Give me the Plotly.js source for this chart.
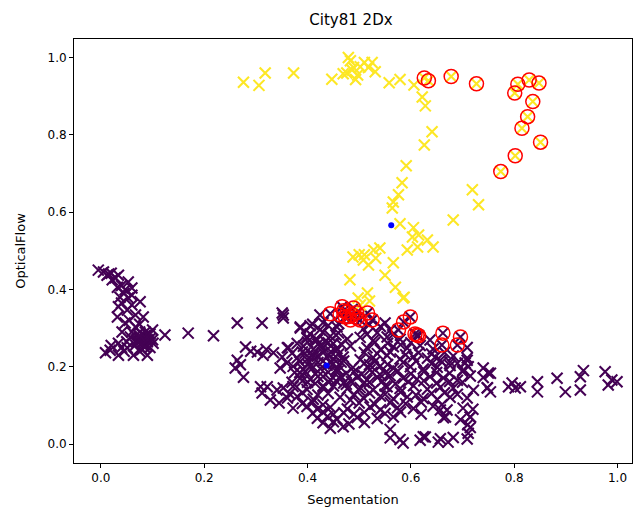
<!DOCTYPE html>
<html>
<head>
<meta charset="utf-8">
<script src="https://cdn.plot.ly/plotly-3.0.1.min.js"></script>
<style>html,body{margin:0;padding:0;background:#fff;}#chart{width:635px;height:515px;}</style>
</head>
<body>
<div id="chart"></div>
<script>
// Cluster 0 (purple) points
const purpleX = [
 -0.005,0.005,0.012,0.020,0.034,0.022,0.053,0.032,0.047,0.060,0.037,0.053,0.076,0.034,0.051,0.067,0.032,0.082,0.047,0.067,
 0.041,0.086,0.100,0.057,0.076,0.096,0.090,0.085,0.034,0.018,0.051,0.009,0.067,0.086,0.090,0.101,0.034,0.063,0.045,0.080,
 0.015,0.028,0.040,0.045,0.060,0.040,0.060,0.055,0.075,0.060,0.075,0.090,0.070,0.095,0.050,0.020,0.040,0.075,
 0.070,0.080,0.090,0.085,0.100,0.075,0.095,
 0.124,0.169,0.218,0.264,0.312,0.351,0.353,
 0.280,0.303,0.314,0.334,0.351,0.363,0.264,0.260,0.276,0.309,0.322,0.312,0.341,0.328,0.345,0.386,0.399,0.424,0.290,0.320,0.270,
 0.353,
 0.386,0.405,0.424,0.457,0.508,0.541,0.560,
 0.399,0.419,0.444,0.477,0.502,0.527,0.554,0.579,
 0.361,0.392,0.411,0.430,0.457,0.483,0.515,0.541,0.566,0.593,0.618,0.643,0.709,
 0.380,0.399,0.419,0.450,0.469,0.502,0.527,0.554,0.579,0.605,0.632,0.657,0.682,0.709,
 0.347,0.372,0.392,0.411,0.438,0.457,0.488,0.521,0.541,0.566,0.599,0.624,0.651,0.676,0.701,0.740,
 0.386,0.405,0.430,0.463,0.496,0.515,0.535,0.560,0.585,0.612,0.637,0.663,0.690,0.715,0.740,
 0.353,0.372,0.399,0.430,0.450,0.477,0.502,0.527,0.554,0.579,0.605,0.632,0.657,0.682,0.721,0.748,
 0.361,0.380,0.411,0.463,0.483,0.508,0.541,0.566,0.593,0.624,0.651,0.676,0.709,
 0.372,0.399,0.419,0.444,0.477,0.521,0.541,0.574,0.605,0.643,0.670,0.701,
 0.419,0.438,0.457,0.496,0.535,0.566,0.663,0.696,0.715,
 0.444,0.469,0.560,0.715,
 0.560,0.579,0.624,0.657,0.682,0.709,
 0.410,0.430,0.440,0.460,0.520,0.550,
 0.405,0.430,0.455,0.460,0.515,0.535,0.565,
 0.380,0.400,0.420,0.440,0.465,0.530,0.555,0.580,0.600,
 0.370,0.390,0.410,0.430,0.445,0.460,0.510,0.535,0.560,0.590,0.615,0.640,0.665,
 0.360,0.385,0.400,0.420,0.430,0.450,0.465,0.510,0.530,0.555,0.585,0.610,0.640,0.660,0.690,
 0.375,0.395,0.415,0.440,0.455,0.475,0.490,0.505,0.525,0.550,0.575,0.600,0.625,0.650,0.675,0.700,
 0.370,0.390,0.415,0.440,0.455,0.470,0.485,0.510,0.545,0.570,0.595,0.625,0.650,0.675,0.700,
 0.365,0.390,0.420,0.440,0.490,0.520,0.550,0.580,0.610,0.640,0.665,0.690,
 0.390,0.410,0.430,0.500,0.530,0.560,0.590,0.620,0.660,
 0.410,0.430,0.450,0.470,0.490,0.510,0.550,0.580,0.620,
 0.430,0.450,0.480,0.510,
 0.415,0.425,0.435,0.450,0.410,0.440,0.455,0.425,0.445,0.460,0.420,0.445,0.465,0.430,0.400,0.405,0.470,0.475,0.500,0.520,
 0.540,0.520,0.550,0.395,0.385,
 0.637,0.647,0.676,0.705,0.750,0.748,0.709,0.711,0.657,0.667,0.715,0.711,0.628,0.653,0.672,0.585,0.618,0.710,0.720,
 0.754,0.754,0.789,0.796,0.802,0.812,0.845,0.845,0.883,0.899,0.928,0.934,0.928,0.976,0.989,0.982,0.999,
 0.444,0.463,0.467,0.473,0.477,0.483,0.487,0.489,0.496,0.502,0.516,0.525,0.470,0.480,0.495,
 0.599,0.586,0.576,0.612,0.615,0.608,0.662,0.660,0.696,0.690
];
const purpleY = [
 0.450,0.445,0.437,0.442,0.437,0.425,0.419,0.406,0.399,0.404,0.380,0.378,0.368,0.355,0.347,0.334,0.329,0.329,0.313,0.303,
 0.290,0.290,0.295,0.277,0.274,0.274,0.265,0.280,0.261,0.243,0.249,0.236,0.256,0.256,0.230,0.261,0.230,0.230,0.240,0.245,
 0.440,0.430,0.410,0.390,0.385,0.365,0.360,0.320,0.310,0.290,0.290,0.285,0.265,0.250,0.265,0.255,0.250,0.240,
 0.270,0.260,0.270,0.250,0.270,0.280,0.285,
 0.282,0.287,0.280,0.313,0.313,0.339,0.326,
 0.251,0.238,0.230,0.236,0.225,0.249,0.217,0.197,0.173,0.148,0.148,0.132,0.140,0.114,0.106,0.303,0.277,0.334,0.240,0.245,0.205,
 0.334,
 0.300,0.306,0.296,0.303,0.298,0.304,0.295,
 0.274,0.270,0.279,0.272,0.276,0.268,0.277,0.271,
 0.249,0.253,0.245,0.251,0.247,0.254,0.249,0.244,0.252,0.248,0.255,0.246,0.250,
 0.223,0.219,0.227,0.221,0.225,0.218,0.224,0.229,0.220,0.226,0.222,0.217,0.228,0.223,
 0.197,0.201,0.193,0.199,0.204,0.195,0.198,0.192,0.202,0.196,0.200,0.194,0.199,0.203,0.191,0.197,
 0.171,0.167,0.175,0.169,0.173,0.166,0.172,0.177,0.170,0.168,0.174,0.171,0.165,0.176,0.172,
 0.145,0.149,0.141,0.147,0.150,0.143,0.146,0.140,0.148,0.144,0.151,0.142,0.147,0.145,0.139,0.146,
 0.119,0.123,0.116,0.121,0.114,0.120,0.124,0.117,0.122,0.118,0.115,0.121,0.119,
 0.093,0.097,0.090,0.095,0.091,0.096,0.089,0.094,0.092,0.098,0.088,0.093,
 0.067,0.071,0.064,0.069,0.066,0.070,0.068,0.063,0.070,
 0.041,0.045,0.038,0.043,
 0.016,0.012,0.019,0.014,0.017,0.013,
 0.310,0.314,0.307,0.312,0.309,0.313,
 0.285,0.289,0.282,0.287,0.284,0.288,0.283,
 0.260,0.264,0.258,0.262,0.259,0.263,0.261,0.257,0.262,
 0.235,0.238,0.232,0.236,0.239,0.233,0.237,0.234,0.238,0.231,0.236,0.233,0.237,
 0.210,0.213,0.207,0.211,0.214,0.208,0.212,0.209,0.213,0.206,0.211,0.214,0.208,0.212,0.209,
 0.185,0.188,0.182,0.186,0.189,0.183,0.187,0.181,0.186,0.184,0.189,0.182,0.187,0.185,0.183,0.188,
 0.160,0.163,0.157,0.161,0.164,0.158,0.162,0.159,0.163,0.156,0.161,0.164,0.158,0.162,0.160,
 0.130,0.133,0.127,0.131,0.128,0.132,0.129,0.134,0.127,0.131,0.133,0.129,
 0.105,0.108,0.102,0.106,0.103,0.107,0.104,0.108,0.102,
 0.080,0.083,0.077,0.081,0.078,0.082,0.079,0.083,0.078,
 0.055,0.058,0.052,0.056,
 0.270,0.255,0.265,0.260,0.225,0.230,0.240,0.195,0.210,0.190,0.175,0.165,0.175,0.150,0.160,0.200,0.215,0.155,0.140,0.160,
 0.180,0.205,0.150,0.235,0.185,
 0.269,0.225,0.212,0.210,0.184,0.145,0.217,0.200,0.088,0.070,0.070,0.028,0.018,0.005,0.005,0.003,0.010,0.050,0.090,
 0.183,0.135,0.148,0.158,0.145,0.148,0.161,0.135,0.170,0.135,0.174,0.190,0.140,0.187,0.166,0.153,0.161,
 0.337,0.334,0.355,0.329,0.342,0.321,0.334,0.352,0.326,0.321,0.339,0.321,0.345,0.330,0.340,
 0.329,0.316,0.295,0.282,0.280,0.285,0.287,0.256,0.277,0.256
];

// Cluster 1 (yellow) points
const yellowX = [
 0.276,0.306,0.318,0.373,0.447,0.476,0.479,0.483,0.489,0.497,0.502,0.510,0.518,0.525,0.531,0.493,0.469,0.486,
 0.558,0.579,0.606,0.622,0.628,0.641,0.626,
 0.626,0.634,0.678,0.727,0.807,0.829,0.848,0.801,0.836,0.826,0.815,0.851,0.802,0.774,
 0.719,0.731,0.682,
 0.591,0.583,0.576,0.566,0.564,0.579,0.605,0.603,0.615,0.632,0.643,0.613,0.593,0.566,0.550,0.570,0.585,
 0.488,0.508,0.528,0.518,0.482,0.516,0.498,0.540,0.532,0.502,0.520,0.587,0.500,0.510
];
const yellowY = [
 0.936,0.928,0.960,0.960,0.944,0.960,1.000,0.992,0.974,0.955,0.976,0.987,0.974,0.987,0.963,0.943,0.958,0.968,
 0.935,0.943,0.929,0.898,0.875,0.808,0.774,
 0.947,0.940,0.951,0.932,0.931,0.942,0.934,0.908,0.886,0.847,0.817,0.781,0.746,0.705,
 0.658,0.619,0.580,
 0.720,0.676,0.645,0.626,0.611,0.570,0.560,0.536,0.541,0.528,0.510,0.510,0.502,0.469,0.437,0.406,0.378,
 0.484,0.476,0.502,0.463,0.425,0.391,0.378,0.507,0.481,0.360,0.370,0.380,0.490,0.490
];

// Highlighted points (red circles)
const circleX = [
 0.626,0.634,0.678,0.727,0.807,0.829,0.848,0.801,0.836,0.826,0.815,0.851,0.802,0.774,
 0.444,0.463,0.467,0.473,0.477,0.483,0.487,0.489,0.496,0.502,0.516,0.525,0.470,0.480,0.495,
 0.599,0.586,0.576,0.612,0.615,0.608,0.662,0.660,0.696,0.690
];
const circleY = [
 0.947,0.940,0.951,0.932,0.931,0.942,0.934,0.908,0.886,0.847,0.817,0.781,0.746,0.705,
 0.337,0.334,0.355,0.329,0.342,0.321,0.334,0.352,0.326,0.321,0.339,0.321,0.345,0.330,0.340,
 0.329,0.316,0.295,0.282,0.280,0.285,0.287,0.256,0.277,0.256
];

// Cluster centres
const centerX = [0.437, 0.562];
const centerY = [0.203, 0.566];

const tickVals = [0.0, 0.2, 0.4, 0.6, 0.8, 1.0];
const tickText = ["0.0", "0.2", "0.4", "0.6", "0.8", "1.0"];

const xMarker = (c) => ({symbol: 'x-thin', size: 11, color: c, line: {color: c, width: 2.1}});

const traces = [
  {x: purpleX, y: purpleY, type: 'scatter', mode: 'markers', marker: xMarker('#440154'), hoverinfo: 'skip'},
  {x: yellowX, y: yellowY, type: 'scatter', mode: 'markers', marker: xMarker('#fde725'), hoverinfo: 'skip'},
  {x: circleX, y: circleY, type: 'scatter', mode: 'markers',
   marker: {symbol: 'circle-open', size: 14, color: 'red', line: {color: 'red', width: 1.5}}, hoverinfo: 'skip'},
  {x: centerX, y: centerY, type: 'scatter', mode: 'markers',
   marker: {symbol: 'circle', size: 6, color: 'blue'}, hoverinfo: 'skip'}
];

const axisCommon = {
  showgrid: false, zeroline: false, showline: true, mirror: true,
  linecolor: 'black', linewidth: 1, ticks: 'outside', ticklen: 4, tickcolor: 'black',
  tickvals: tickVals, ticktext: tickText,
  tickfont: {family: 'DejaVu Sans', size: 12, color: 'black'}
};

const layout = {
  width: 635, height: 515,
  margin: {l: 74, r: 3, t: 39, b: 52},
  paper_bgcolor: 'white', plot_bgcolor: 'white',
  showlegend: false,
  font: {family: 'DejaVu Sans', color: 'black'},
  title: {text: 'City81 2Dx', font: {family: 'DejaVu Sans', size: 15, color: 'black'},
          x: 0.5527, xref: 'container', y: 0.961, yref: 'container', xanchor: 'center', yanchor: 'middle'},
  xaxis: Object.assign({}, axisCommon, {range: [-0.052, 1.028],
    title: {text: 'Segmentation', font: {family: 'DejaVu Sans', size: 13, color: 'black'}, standoff: 10}}),
  yaxis: Object.assign({}, axisCommon, {range: [-0.049, 1.048],
    title: {text: 'OpticalFlow', font: {family: 'DejaVu Sans', size: 13, color: 'black'}, standoff: 18}})
};

Plotly.newPlot('chart', traces, layout, {displayModeBar: false, staticPlot: true});
</script>
</body>
</html>
